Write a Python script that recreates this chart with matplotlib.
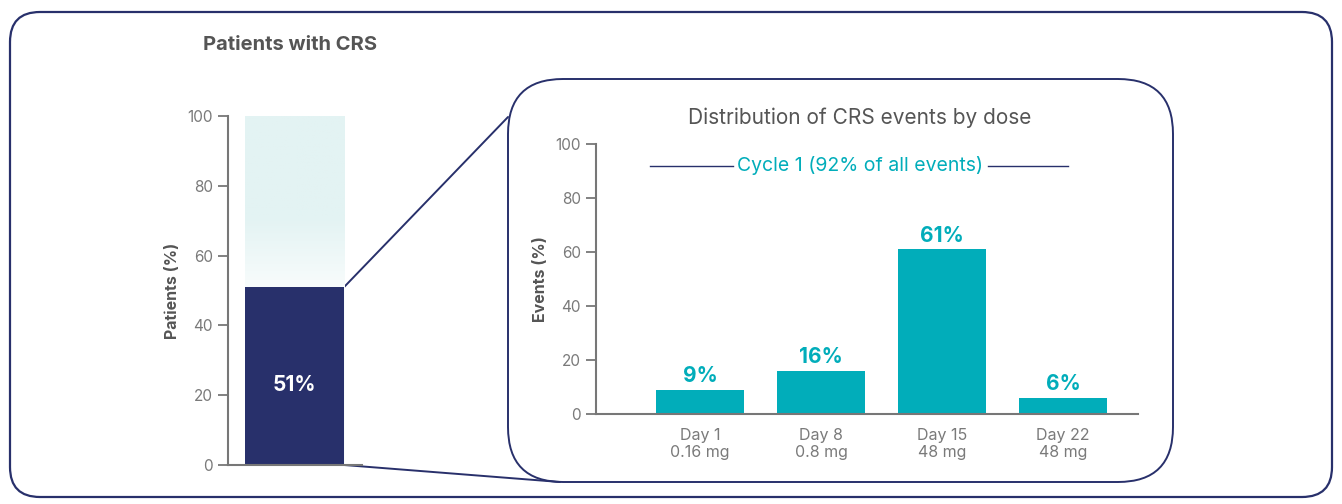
import numpy as np
import matplotlib.pyplot as plt
from matplotlib.patches import FancyBboxPatch, ConnectionPatch
from matplotlib.colors import LinearSegmentedColormap

plt.rcParams['font.family'] = ['Inter', 'DejaVu Sans']

# data
crs_patients = 51
doses = ["Day 1\n0.16 mg", "Day 8\n0.8 mg", "Day 15\n48 mg", "Day 22\n48 mg"]
events = [9, 16, 61, 6]
yticks = [0, 20, 40, 60, 80, 100]

navy = "#28306b"
teal = "#01adba"
grey_txt = "#555555"
tick_col = "#7a7a7a"
axis_col = "#777777"

W, H = 1342, 504
fig = plt.figure(figsize=(W / 100, H / 100), dpi=100)


def px_axes(x0, y0, x1, y1, **kw):
    # axes placed by pixel box (top-left origin)
    return fig.add_axes([x0 / W, (H - y1) / H, (x1 - x0) / W, (y1 - y0) / H], **kw)


# background layer for frames and connectors
bg = px_axes(0, 0, W, H, zorder=0)
bg.set_xlim(0, W)
bg.set_ylim(H, 0)
bg.axis("off")
bg.add_patch(FancyBboxPatch((10, 12), 1322, 485, boxstyle="round,pad=0,rounding_size=30",
                            fc="white", ec=navy, lw=1.6))


def style_axis(ax):
    for s in ["top", "right"]:
        ax.spines[s].set_visible(False)
    for s in ["left", "bottom"]:
        ax.spines[s].set_color(axis_col)
        ax.spines[s].set_linewidth(1.5)
    ax.tick_params(axis="y", colors=axis_col, labelcolor=tick_col, labelsize=11,
                   length=7, width=1.3, pad=4)
    ax.tick_params(axis="x", length=0, labelcolor=tick_col, labelsize=11.5, pad=10)
    ax.set_facecolor("none")


# left: patients with CRS
ax1 = px_axes(228, 116, 362, 465, zorder=2)
style_axis(ax1)
ax1.set_xlim(-0.17, 1.18)
ax1.set_ylim(0, 100)
ax1.set_yticks(yticks)
ax1.set_xticks([])
# the remaining share fades out towards the bar
fade = LinearSegmentedColormap.from_list("fade", ["#f8fcfc", "#e3f3f3"])
grad = np.clip((np.linspace(0, 100, 200) - crs_patients) / 20, 0, 1)[:, None]
ax1.imshow(grad, cmap=fade, vmin=0, vmax=1, extent=[0, 1, 0, 100], origin="lower",
           aspect="auto", zorder=1)
ax1.bar(0, crs_patients, width=1, align="edge", color=navy, zorder=2)
ax1.text(0.5, crs_patients * 0.45, f"{crs_patients}%", color="white", fontsize=15,
         fontweight="bold", ha="center", va="center", zorder=3)
ax1.set_ylabel("Patients (%)", color=grey_txt, fontsize=11.5, fontweight="bold", labelpad=5)
fig.text(203 / W, 1 - 45 / H, "Patients with CRS", color=grey_txt, fontsize=14.5,
         fontweight="bold", ha="left", va="center")

# detail panel frame
bg.add_patch(FancyBboxPatch((508, 79), 665, 403, boxstyle="round,pad=0,rounding_size=55",
                            fc="white", ec=navy, lw=1.4))

# right: distribution by dose
ax2 = px_axes(596, 144, 1138, 414, zorder=2)
style_axis(ax2)
x = np.arange(len(doses))
ax2.set_xlim(-0.86, 3.62)
ax2.set_ylim(0, 100)
ax2.set_yticks(yticks)
ax2.set_xticks(x)
ax2.set_xticklabels(doses, linespacing=1.15)
ax2.bar(x, events, width=0.73, color=teal, zorder=2)
for xi, v in zip(x, events):
    ax2.text(xi, v + 2.8, f"{v}%", color=teal, fontsize=15, fontweight="bold",
             ha="center", va="baseline")
ax2.set_ylabel("Events (%)", color=grey_txt, fontsize=11.5, fontweight="bold", labelpad=5)
ax2.text(1.32, 92, "Cycle 1 (92% of all events)", color=teal, fontsize=14,
         ha="center", va="center")
ax2.plot([-0.41, 0.27], [92, 92], color=navy, lw=1)
ax2.plot([2.38, 3.04], [92, 92], color=navy, lw=1)
fig.text(860 / W, 1 - 118 / H, "Distribution of CRS events by dose", color=grey_txt,
         fontsize=15, ha="center", va="center")

# zoom connectors from the bar to the panel
for ya, xb, yb in [(crs_patients, 508, 117), (0, 560, 482)]:
    con = ConnectionPatch(xyA=(1, ya), coordsA=ax1.transData, xyB=(xb, yb),
                          coordsB=bg.transData, color=navy, lw=1.4)
    bg.add_artist(con)

fig.savefig("out.png", dpi=100)
